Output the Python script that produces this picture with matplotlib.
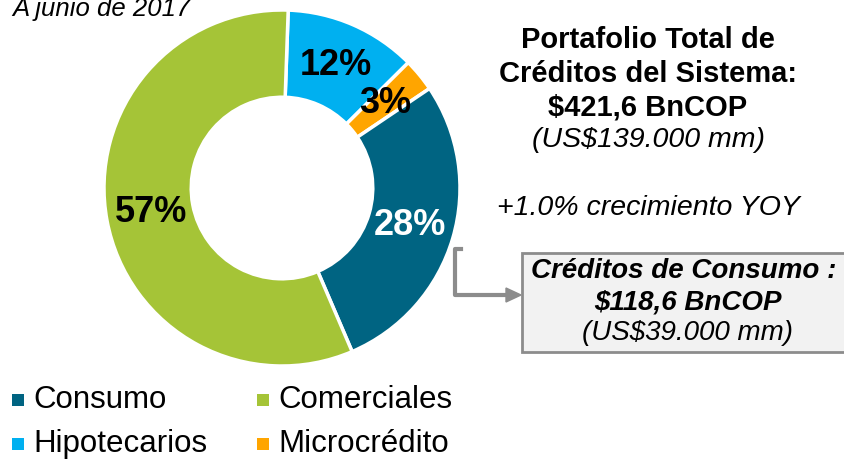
import matplotlib.pyplot as plt
from matplotlib.lines import Line2D
from matplotlib.patches import Rectangle

plt.rcParams['font.family'] = ['Liberation Sans', 'DejaVu Sans']

# slices in clockwise order starting at the top
labels = ["Hipotecarios", "Microcrédito", "Consumo", "Comerciales"]
shares = [12, 3, 28, 57]
colors = ["#00b0f0", "#ffa500", "#006482", "#a5c437"]
pct_colors = ["black", "black", "white", "black"]

legend_order = ["Consumo", "Comerciales", "Hipotecarios", "Microcrédito"]

W, H = 844, 462
fig = plt.figure(figsize=(W / 100, H / 100), dpi=100)

# donut: centre ~ (282, 188) px, radius ~ 178 px
cx, cy, r = 282, 188, 178
ax = fig.add_axes([(cx - r) / W, (H - cy - r) / H, 2 * r / W, 2 * r / H])
wedges, texts, autotexts = ax.pie(
    shares, colors=colors, startangle=88, counterclock=False,
    wedgeprops=dict(width=0.49, edgecolor="white", linewidth=2.5),
    autopct=lambda p: f"{p:.0f}%", pctdistance=0.75)
for t, c in zip(autotexts, pct_colors):
    t.set_color(c)
    t.set_fontsize(26)
    t.set_fontweight("bold")
ax.set_xlim(-1, 1)
ax.set_ylim(-1, 1)
ax.set_aspect("equal")

# texts on the right
fig.text(12 / W, 1 - 9 / H, "A junio de 2017", fontsize=18.5, style="italic",
         ha="left", va="center")
fig.text(648 / W, 1 - 40 / H, "Portafolio Total de", fontsize=21,
         fontweight="bold", ha="center", va="center")
fig.text(648 / W, 1 - 74 / H, "Créditos del Sistema:", fontsize=21,
         fontweight="bold", ha="center", va="center")
fig.text(648 / W, 1 - 107 / H, "$421,6 BnCOP", fontsize=21,
         fontweight="bold", ha="center", va="center")
fig.text(648 / W, 1 - 140 / H, "(US$139.000 mm)", fontsize=20.5,
         style="italic", ha="center", va="center")
fig.text(648 / W, 1 - 208 / H, "+1.0% crecimiento YOY", fontsize=20.5,
         style="italic", ha="center", va="center")

# callout box
fig.add_artist(Rectangle((522 / W, 1 - 352 / H), 330 / W, 99 / H,
                         transform=fig.transFigure, facecolor="#f2f2f2",
                         edgecolor="#8c8c8c", linewidth=2))
fig.text(684 / W, 1 - 271 / H, "Créditos de Consumo :", fontsize=20,
         fontweight="bold", style="italic", ha="center", va="center")
fig.text(688 / W, 1 - 302 / H, "$118,6 BnCOP", fontsize=20,
         fontweight="bold", style="italic", ha="center", va="center")
fig.text(688 / W, 1 - 333 / H, "(US$39.000 mm)", fontsize=20,
         style="italic", ha="center", va="center")

# connector
fig.add_artist(Line2D([461 / W, 455 / W, 455 / W, 508 / W],
                      [1 - 249 / H, 1 - 249 / H, 1 - 295 / H, 1 - 295 / H],
                      transform=fig.transFigure, color="#8c8c8c", linewidth=3))
fig.add_artist(plt.Polygon([[506 / W, 1 - 288 / H], [506 / W, 1 - 302 / H],
                            [521 / W, 1 - 295 / H]], closed=True,
                           transform=fig.transFigure, color="#8c8c8c"))

# legend, drawn by hand: 2 columns x 2 rows
lookup = dict(zip(labels, colors))
col_x = [12, 257]
row_y = [400, 444]
for i, name in enumerate(legend_order):
    x = col_x[i % 2]
    y = row_y[i // 2]
    fig.add_artist(Rectangle((x / W, 1 - (y + 6) / H), 12 / W, 12 / H,
                             transform=fig.transFigure,
                             facecolor=lookup[name], edgecolor="none"))
    fig.text((x + 21) / W, 1 - y / H, name, fontsize=22.5,
             ha="left", va="center")

fig.savefig("out.png", dpi=100)
